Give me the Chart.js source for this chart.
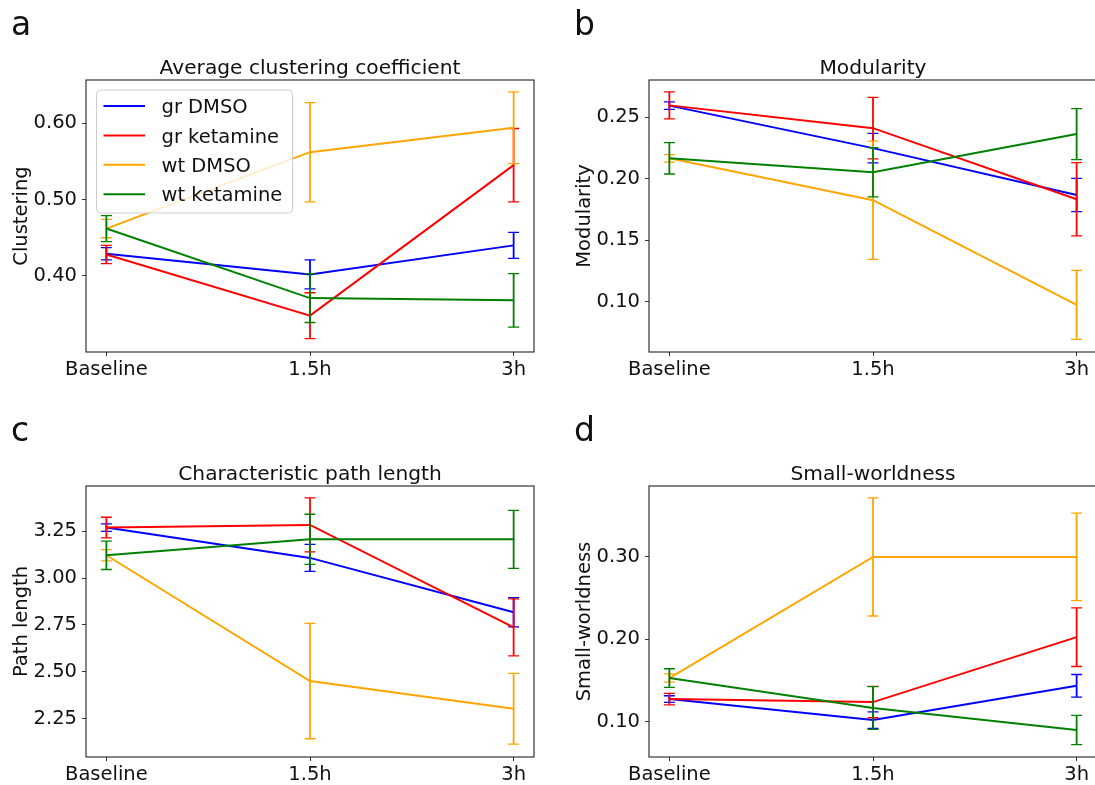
<!DOCTYPE html>
<html>
<head>
<meta charset="utf-8">
<script src="https://cdn.jsdelivr.net/npm/chart.js@4.4.0/dist/chart.umd.min.js"></script>
<style>
  html, body { margin: 0; padding: 0; background: #fff; overflow: hidden; }
  body { width: 1095px; height: 785px; position: relative; }
  canvas { position: absolute; }
</style>
</head>
<body>
<canvas id="panelA" width="545" height="400" style="left:0px;top:0px"></canvas>
<canvas id="panelB" width="545" height="400" style="left:563px;top:0px"></canvas>
<canvas id="panelC" width="545" height="385" style="left:0px;top:400px"></canvas>
<canvas id="panelD" width="545" height="385" style="left:563px;top:400px"></canvas>
<script>
const categories = ['Baseline', '1.5h', '3h'];
const seriesNames = ['gr DMSO', 'gr ketamine', 'wt DMSO', 'wt ketamine'];
const seriesColors = ['#0000ff', '#ff0000', '#ffa500', '#008000'];

// rows follow seriesNames, columns follow categories
const clusteringMean = [
  [0.429, 0.402, 0.440],
  [0.428, 0.348, 0.545],
  [0.462, 0.562, 0.594],
  [0.462, 0.371, 0.368]
];
const clusteringErr = [
  [0.008, 0.019, 0.017],
  [0.012, 0.030, 0.048],
  [0.012, 0.065, 0.047],
  [0.017, 0.032, 0.035]
];
const clusteringTicks = [0.40, 0.50, 0.60];

const modularityMean = [
  [0.2594, 0.2249, 0.1869],
  [0.2596, 0.2411, 0.1834],
  [0.2166, 0.1826, 0.0977],
  [0.2166, 0.2053, 0.2363]
];
const modularityErr = [
  [0.003, 0.012, 0.0135],
  [0.011, 0.025, 0.0297],
  [0.003, 0.048, 0.028],
  [0.0127, 0.020, 0.0207]
];
const modularityTicks = [0.10, 0.15, 0.20, 0.25];

const pathMean = [
  [3.270, 3.108, 2.818],
  [3.270, 3.284, 2.737],
  [3.122, 2.451, 2.303],
  [3.122, 3.207, 3.207]
];
const pathErr = [
  [0.020, 0.072, 0.078],
  [0.055, 0.144, 0.152],
  [0.030, 0.308, 0.189],
  [0.076, 0.134, 0.155]
];
const pathTicks = [2.25, 2.50, 2.75, 3.00, 3.25];

const smallWorldMean = [
  [0.1275, 0.1020, 0.1436],
  [0.1275, 0.1238, 0.2026],
  [0.1530, 0.3000, 0.3000],
  [0.1530, 0.1166, 0.0899]
];
const smallWorldErr = [
  [0.004, 0.010, 0.0137],
  [0.007, 0.019, 0.0356],
  [0.005, 0.0717, 0.053],
  [0.0113, 0.026, 0.0178]
];
const smallWorldTicks = [0.10, 0.20, 0.30];

const FONT = 'DejaVu Sans';
const TEXT = '#111';

// error bars, frame, legend, title and panel letter
const decor = {
  id: 'decor',
  afterDatasetDraw(chart, args) {
    const ds = chart.data.datasets[args.index];
    const y = chart.scales.y;
    const ctx = chart.ctx;
    ctx.save();
    ctx.strokeStyle = ds.borderColor;
    args.meta.data.forEach((pt, j) => {
      const m = ds.data[j].y, e = ds.errors[j];
      const yt = y.getPixelForValue(m + e), yb = y.getPixelForValue(m - e);
      ctx.lineWidth = 1.8;
      ctx.beginPath(); ctx.moveTo(pt.x, yt); ctx.lineTo(pt.x, yb); ctx.stroke();
      ctx.lineWidth = 1.3;
      ctx.beginPath();
      ctx.moveTo(pt.x - 5.5, yt); ctx.lineTo(pt.x + 5.5, yt);
      ctx.moveTo(pt.x - 5.5, yb); ctx.lineTo(pt.x + 5.5, yb);
      ctx.stroke();
    });
    ctx.restore();
  },
  afterDatasetsDraw(chart, args, opts) {
    const ctx = chart.ctx, a = chart.chartArea;
    ctx.save();
    ctx.strokeStyle = '#222';
    ctx.lineWidth = 1.1;
    ctx.strokeRect(a.left, a.top, a.right - a.left, a.bottom - a.top);
    if (opts.legend) {
      const bx = a.left + 10.5, by = a.top + 10, bw = 196, bh = 123;
      ctx.beginPath();
      ctx.roundRect(bx, by, bw, bh, 4);
      ctx.fillStyle = 'rgba(255,255,255,0.8)';
      ctx.fill();
      ctx.strokeStyle = '#cccccc';
      ctx.lineWidth = 1;
      ctx.stroke();
      ctx.font = '19.5px "' + FONT + '"';
      ctx.textBaseline = 'alphabetic';
      chart.data.datasets.forEach((ds, i) => {
        const ly = a.top + 26 + i * 29.4;
        ctx.strokeStyle = ds.borderColor;
        ctx.lineWidth = 2;
        ctx.beginPath(); ctx.moveTo(a.left + 17.5, ly); ctx.lineTo(a.left + 59, ly); ctx.stroke();
        ctx.fillStyle = TEXT;
        ctx.fillText(ds.label, a.left + 75.5, ly + 7.2);
      });
    }
    ctx.restore();
  },
  afterDraw(chart, args, opts) {
    const ctx = chart.ctx, a = chart.chartArea;
    ctx.save();
    ctx.fillStyle = TEXT;
    ctx.textBaseline = 'alphabetic';
    ctx.textAlign = 'center';
    ctx.font = '20.2px "' + FONT + '"';
    ctx.fillText(opts.title, (a.left + a.right) / 2, a.top - 6.5);
    ctx.textAlign = 'left';
    ctx.font = '33px "' + FONT + '"';
    ctx.fillText(opts.letter, a.left - 75, a.top - 45);
    ctx.restore();
  }
};

function makePanel(id, letter, title, yLabel, means, errs, yTicks, yMin, yMax, topPad, xHeight, legend) {
  const datasets = seriesNames.map((name, i) => ({
    label: name,
    data: means[i].map((v, j) => ({ x: j, y: v })),
    errors: errs[i],
    borderColor: seriesColors[i],
    backgroundColor: seriesColors[i],
    borderWidth: 2,
    pointRadius: 0,
    tension: 0,
    order: seriesNames.length - i
  }));
  const tickFont = { family: FONT, size: 19.5 };
  return new Chart(document.getElementById(id), {
    type: 'line',
    data: { datasets: datasets },
    plugins: [decor],
    options: {
      responsive: false,
      animation: false,
      devicePixelRatio: 1,
      layout: { padding: { top: topPad, right: 11, left: 0, bottom: 0 } },
      plugins: {
        legend: { display: false },
        tooltip: { enabled: false },
        decor: { title: title, letter: letter, legend: legend }
      },
      scales: {
        x: {
          type: 'linear',
          min: -0.1,
          max: 2.1,
          afterBuildTicks: s => { s.ticks = categories.map((c, j) => ({ value: j })); },
          afterFit: s => { s.height = xHeight; },
          ticks: { callback: v => categories[v], font: tickFont, color: TEXT, padding: 2, maxRotation: 0, autoSkip: false },
          grid: { display: true, drawOnChartArea: false, drawTicks: true, tickLength: 4, color: '#333' },
          border: { display: false }
        },
        y: {
          min: yMin,
          max: yMax,
          afterBuildTicks: s => { s.ticks = yTicks.map(v => ({ value: v })); },
          afterFit: s => { s.width = 86; },
          ticks: { callback: v => v.toFixed(2), font: tickFont, color: TEXT, padding: 5, autoSkip: false },
          grid: { display: true, drawOnChartArea: false, drawTicks: true, tickLength: 4, color: '#333' },
          border: { display: false },
          title: { display: true, text: yLabel, font: tickFont, color: TEXT, padding: { top: 10, bottom: 0 } }
        }
      }
    }
  });
}

makePanel('panelA', 'a', 'Average clustering coefficient', 'Clustering',
  clusteringMean, clusteringErr, clusteringTicks, 0.3004, 0.6565, 80, 48, true);
makePanel('panelB', 'b', 'Modularity', 'Modularity',
  modularityMean, modularityErr, modularityTicks, 0.0594, 0.2802, 80, 48, false);
makePanel('panelC', 'c', 'Characteristic path length', 'Path length',
  pathMean, pathErr, pathTicks, 2.0457, 3.4916, 86, 28, false);
makePanel('panelD', 'd', 'Small-worldness', 'Small-worldness',
  smallWorldMean, smallWorldErr, smallWorldTicks, 0.0572, 0.386, 86, 28, false);
</script>
</body>
</html>
